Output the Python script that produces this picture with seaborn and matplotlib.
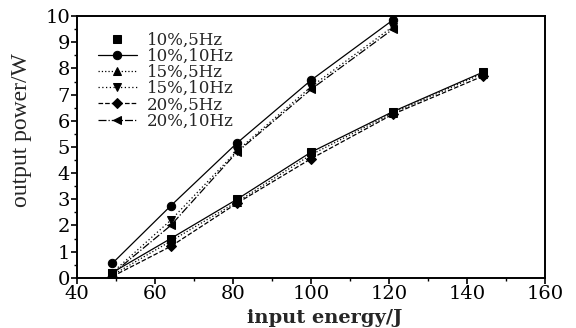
import pandas as pd
import matplotlib
matplotlib.use("Agg")
import matplotlib.pyplot as plt
from matplotlib.ticker import MultipleLocator
import seaborn as sns

energy_5hz = [49, 64, 81, 100, 121, 144]
energy_10hz = [49, 64, 81, 100, 121]

p_10_5 = [0.2, 1.5, 3.0, 4.8, 6.35, 7.85]
p_10_10 = [0.55, 2.75, 5.15, 7.55, 9.85]
p_15_5 = [0.1, 1.4, 2.9, 4.7, 6.3, 7.8]
p_15_10 = [0.2, 2.2, 4.85, 7.3, 9.6]
p_20_5 = [0.05, 1.2, 2.85, 4.55, 6.25, 7.7]
p_20_10 = [0.15, 2.0, 4.8, 7.2, 9.5]

labels = ["10%,5Hz", "10%,10Hz", "15%,5Hz", "15%,10Hz", "20%,5Hz", "20%,10Hz"]

series = [
    (energy_5hz, p_10_5, "s", "-"),
    (energy_10hz, p_10_10, "o", "-"),
    (energy_5hz, p_15_5, "^", ":"),
    (energy_10hz, p_15_10, "v", (0, (1, 2))),
    (energy_5hz, p_20_5, "D", "--"),
    (energy_10hz, p_20_10, "<", "-."),
]

sns.set_style("ticks")
plt.rcParams['font.family'] = ['DejaVu Serif', 'Liberation Serif']

fig, ax = plt.subplots(figsize=(5.76, 3.28), dpi=100)
fig.subplots_adjust(left=0.134, right=0.946, top=0.951, bottom=0.153)

for (x, y, m, ls), lab in zip(series, labels):
    df = pd.DataFrame({"x": x, "y": y})
    ms = 5 if m == "D" else 6
    sns.lineplot(data=df, x="x", y="y", ax=ax, color="black", marker=m,
                 markersize=ms, linestyle=ls, linewidth=0.9,
                 markeredgecolor="black", label=lab)

ax.set_xlim(40, 160)
ax.set_ylim(0, 10)
ax.xaxis.set_major_locator(MultipleLocator(20))
ax.xaxis.set_minor_locator(MultipleLocator(10))
ax.yaxis.set_major_locator(MultipleLocator(1))
ax.yaxis.set_minor_locator(MultipleLocator(0.5))
ax.tick_params(axis="both", which="major", labelsize=14, direction="out",
               length=4, width=1.2, pad=1, color="black", labelcolor="black")
ax.tick_params(axis="both", which="minor", direction="out", length=2,
               width=1, color="black")
for s in ax.spines.values():
    s.set_linewidth(1.4)
    s.set_color("black")

ax.set_xlabel("input energy/J", fontsize=14, fontweight="bold")
ax.xaxis.set_label_coords(0.53, -0.12)
ax.set_ylabel("output power/W", fontsize=17, family="Liberation Serif")
ax.yaxis.set_label_coords(-0.097, 0.565)

leg = ax.legend(loc="upper left", frameon=False, fontsize=12,
                handlelength=2.3, handletextpad=0.6, labelspacing=-0.05,
                borderaxespad=0.3, bbox_to_anchor=(0.02, 0.985))
leg.get_lines()[0].set_linestyle("None")

plt.savefig("out.png", dpi=100)
